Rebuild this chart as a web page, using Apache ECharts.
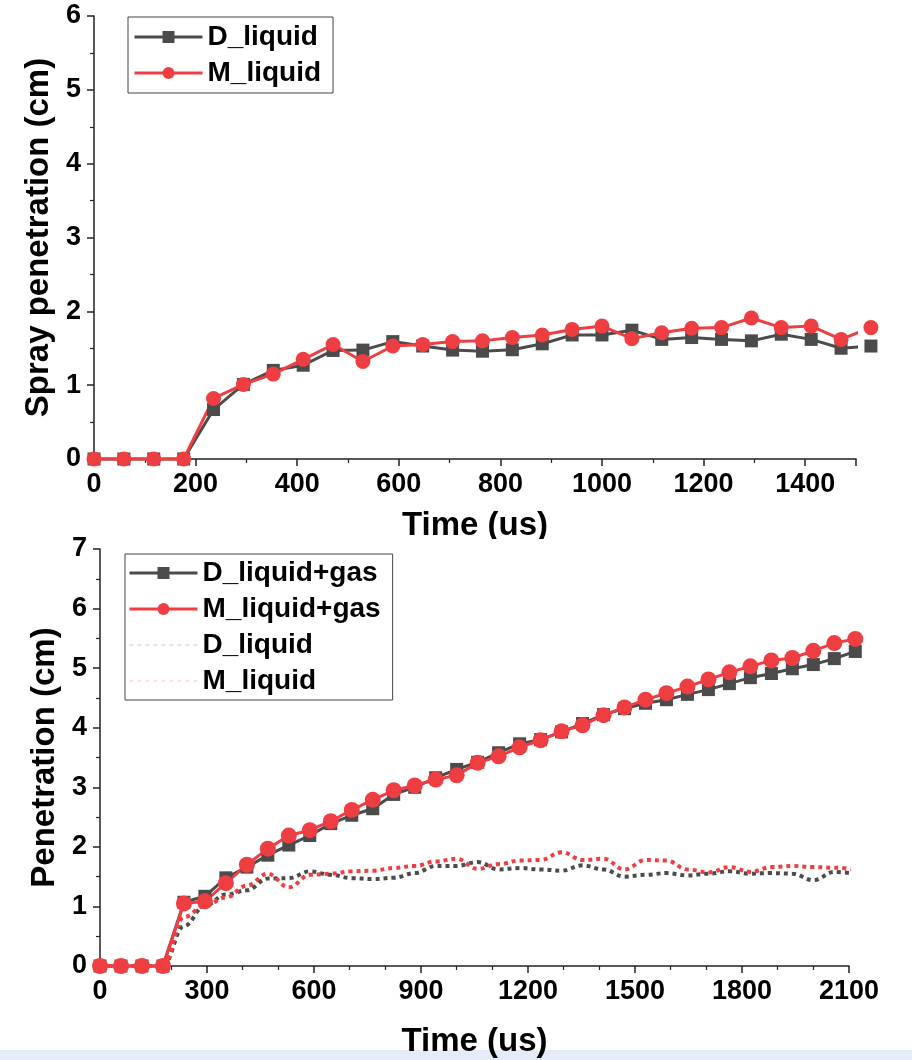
<!DOCTYPE html>
<html>
<head>
<meta charset="utf-8">
<script src="https://cdn.jsdelivr.net/npm/echarts@6/dist/echarts.min.js"></script>
<style>
  html, body { margin: 0; padding: 0; background: #fff; }
  #top { position: absolute; left: 0; top: 0; width: 912px; height: 539px; }
  #bottom { position: absolute; left: 0; top: 530px; width: 912px; height: 530px; }
</style>
</head>
<body>
<div id="top"></div>
<div id="bottom"></div>
<script>
// time steps (us)
var time = [0, 58.8, 117.6, 176.5, 235.3, 294.1, 352.9, 411.8, 470.6, 529.4, 588.2, 647.1,
  705.9, 764.7, 823.5, 882.4, 941.2, 1000, 1058.8, 1117.6, 1176.5, 1235.3, 1294.1, 1352.9,
  1411.8, 1470.6, 1529.4, 1588.2, 1647.1, 1705.9, 1764.7, 1823.5, 1882.4, 1941.2, 2000,
  2058.8, 2117.6]

// liquid penetration (cm)
var dLiquid = [0, 0, 0, 0, 0.67, 1.01, 1.2, 1.27, 1.47, 1.475, 1.59, 1.53, 1.475, 1.46, 1.48,
  1.56, 1.68, 1.68, 1.745, 1.62, 1.645, 1.62, 1.6, 1.69, 1.62, 1.5, 1.53,
  1.56, 1.52, 1.55, 1.59, 1.55, 1.56, 1.55, 1.44, 1.58, 1.55]
var mLiquid = [0, 0, 0, 0, 0.82, 1.01, 1.15, 1.35, 1.55, 1.32, 1.53, 1.55, 1.59, 1.6, 1.645,
  1.68, 1.755, 1.8, 1.63, 1.71, 1.77, 1.78, 1.91, 1.78, 1.8, 1.62, 1.78,
  1.77, 1.62, 1.57, 1.66, 1.58, 1.66, 1.68, 1.66, 1.65, 1.62]
// number of points shown in the upper plot
var topCount = 27

// liquid + gas penetration (cm)
var dLiquidGas = [0, 0, 0, 0, 1.07, 1.17, 1.48, 1.66, 1.86, 2.03, 2.19, 2.39, 2.53, 2.64, 2.88,
  3.0, 3.16, 3.3, 3.42, 3.58, 3.73, 3.8, 3.93, 4.07, 4.22, 4.32, 4.41, 4.47, 4.56, 4.64, 4.74,
  4.84, 4.91, 4.99, 5.06, 5.16, 5.28]
var mLiquidGas = [0, 0, 0, 0, 1.05, 1.085, 1.39, 1.7, 1.97, 2.19, 2.28, 2.43, 2.62, 2.79, 2.95,
  3.03, 3.13, 3.2, 3.41, 3.52, 3.67, 3.79, 3.94, 4.04, 4.21, 4.34, 4.47, 4.58, 4.69, 4.81, 4.93,
  5.03, 5.13, 5.17, 5.29, 5.42, 5.49]

var GRAY = '#4b4b4b'
var RED = '#ef3e42'
var FONT = "'Liberation Sans', Arial, sans-serif"

function pairs (ys, n) {
  var out = []
  for (var i = 0; i < (n || ys.length); i++) out.push([time[i], ys[i]])
  return out
}

function axisBase () {
  return {
    axisLine: { lineStyle: { color: '#222', width: 1.5 } },
    axisTick: { length: 7, lineStyle: { color: '#222', width: 1.5 } },
    minorTick: { show: true, length: 4, lineStyle: { color: '#222', width: 1.2 } },
    splitLine: { show: false },
    axisLabel: {
      color: '#000', fontSize: 27, fontWeight: 'bold', fontFamily: FONT,
      formatter: function (v) { return String(v) }
    },
    nameTextStyle: { color: '#000', fontSize: 33, fontWeight: 'bold', fontFamily: FONT }
  }
}

function legendBase () {
  return {
    orient: 'vertical',
    borderColor: '#444',
    borderWidth: 1,
    itemWidth: 68,
    itemHeight: 15,
    textStyle: { color: '#000', fontSize: 28, fontWeight: 'bold', fontFamily: FONT }
  }
}

// ---------- upper plot ----------
var topChart = echarts.init(document.getElementById('top'))
var xTop = Object.assign(axisBase(), {
  type: 'value', min: 0, max: 1500, interval: 200,
  name: 'Time (us)', nameLocation: 'middle', nameGap: 50
})
xTop.minorTick.splitNumber = 2
xTop.axisLabel.margin = 12
xTop.axisLabel.showMaxLabel = false
var yTop = Object.assign(axisBase(), {
  type: 'value', min: 0, max: 6, interval: 1,
  name: 'Spray penetration (cm)', nameLocation: 'middle', nameGap: 30
})
yTop.minorTick.splitNumber = 2
yTop.axisLabel.margin = 13

topChart.setOption({
  animation: false,
  grid: { left: 94, top: 16, width: 762, height: 443, outerBoundsMode: 'none', containLabel: false },
  legend: Object.assign(legendBase(), {
    left: 128, top: 17, padding: [6, 12, 6, 5], itemGap: 8,
    data: [
      { name: 'D_liquid', lineStyle: { width: 3 } },
      { name: 'M_liquid', lineStyle: { width: 3 } }
    ]
  }),
  xAxis: xTop,
  yAxis: yTop,
  series: [
    {
      name: 'D_liquid', type: 'line', clip: false,
      data: pairs(dLiquid, topCount),
      symbol: 'rect', symbolSize: 13,
      lineStyle: { color: GRAY, width: 3 },
      itemStyle: { color: GRAY }
    },
    {
      name: 'M_liquid', type: 'line', clip: false,
      data: pairs(mLiquid, topCount),
      symbol: 'circle', symbolSize: 15,
      lineStyle: { color: RED, width: 3 },
      itemStyle: { color: RED }
    }
  ]
})

// ---------- lower plot ----------
var bottomChart = echarts.init(document.getElementById('bottom'))
var xBot = Object.assign(axisBase(), {
  type: 'value', min: 0, max: 2100, interval: 300,
  name: 'Time (us)', nameLocation: 'middle', nameGap: 59
})
xBot.minorTick.splitNumber = 3
xBot.axisLabel.margin = 12
var yBot = Object.assign(axisBase(), {
  type: 'value', min: 0, max: 7, interval: 1,
  name: 'Penetration (cm)', nameLocation: 'middle', nameGap: 32
})
yBot.minorTick.splitNumber = 2
yBot.axisLabel.margin = 13

bottomChart.setOption({
  animation: false,
  graphic: [{
    type: 'rect', left: 0, top: 520, z: -10,
    shape: { width: 912, height: 10 },
    style: { fill: '#e4edf7' }
  }],
  grid: { left: 100, top: 19, width: 749, height: 417, outerBoundsMode: 'none', containLabel: false },
  legend: Object.assign(legendBase(), {
    left: 125, top: 24, padding: [5, 12, 5, 3], itemGap: 8,
    data: [
      { name: 'D_liquid+gas', lineStyle: { width: 3 } },
      { name: 'M_liquid+gas', lineStyle: { width: 3 } },
      { name: 'D_liquid', itemStyle: { opacity: 0 }, lineStyle: { opacity: 0.15, width: 2 } },
      { name: 'M_liquid', itemStyle: { opacity: 0 }, lineStyle: { opacity: 0.15, width: 2 } }
    ]
  }),
  xAxis: xBot,
  yAxis: yBot,
  series: [
    {
      name: 'D_liquid+gas', type: 'line', clip: false,
      data: pairs(dLiquidGas),
      symbol: 'rect', symbolSize: 13,
      lineStyle: { color: GRAY, width: 3 },
      itemStyle: { color: GRAY }
    },
    {
      name: 'M_liquid+gas', type: 'line', clip: false,
      data: pairs(mLiquidGas),
      symbol: 'circle', symbolSize: 16,
      lineStyle: { color: RED, width: 3 },
      itemStyle: { color: RED }
    },
    {
      name: 'D_liquid', type: 'line', clip: false,
      data: pairs(dLiquid),
      symbol: 'none', smooth: 0.4, smoothMonotone: 'x',
      lineStyle: { color: GRAY, width: 4, type: [4, 4] },
      itemStyle: { color: GRAY }
    },
    {
      name: 'M_liquid', type: 'line', clip: false,
      data: pairs(mLiquid),
      symbol: 'none', smooth: 0.4, smoothMonotone: 'x',
      lineStyle: { color: RED, width: 4, type: [4, 4] },
      itemStyle: { color: RED }
    }
  ]
})
</script>
</body>
</html>
